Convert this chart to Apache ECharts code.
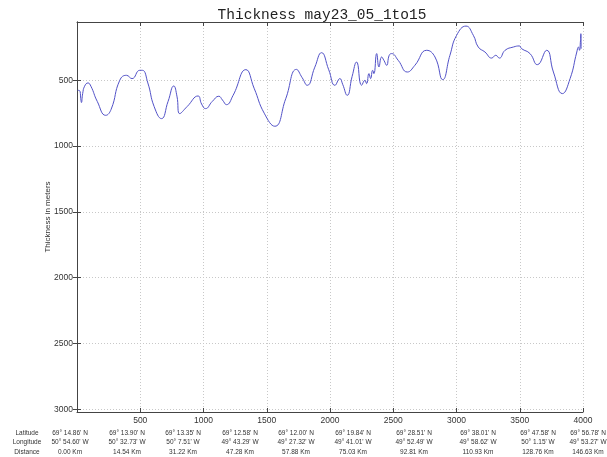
<!DOCTYPE html>
<html>
<head>
<meta charset="utf-8">
<script src="https://cdn.jsdelivr.net/npm/echarts@6/dist/echarts.min.js"></script>
<style>
  html, body { margin: 0; padding: 0; background: #fff; }
  #chart { width: 607px; height: 457px; }
</style>
</head>
<body>
<div id="chart"></div>
<script>
// Trace number along the profile and ice thickness (m) at each trace
const traceIndex = [
  5, 20, 30, 35, 45, 60, 87, 110, 160, 227, 270, 338, 391, 435, 496, 517,
  560, 610, 668, 720, 765, 790, 812, 870, 957, 985, 1016, 1070, 1121, 1150,
  1182, 1234, 1335, 1400, 1480, 1564, 1650, 1735, 1780, 1820, 1880, 1933,
  1990, 2039, 2078, 2100, 2136, 2175, 2210, 2250, 2276, 2289, 2308, 2321,
  2337, 2347, 2369, 2387, 2408, 2426, 2448, 2468, 2487, 2539, 2611, 2671,
  2764, 2830, 2891, 2948, 3001, 3075, 3133, 3172, 3225, 3278, 3310, 3339,
  3384, 3450, 3497, 3515, 3581, 3639, 3713, 3766, 3837, 3898, 3951, 3964,
  3972, 3980, 3983, 3985
];
const thickness = [
  576, 578, 640, 669, 600, 545, 520, 545, 660, 766, 720, 500, 462, 487, 424, 424,
  520, 700, 791, 660, 543, 620, 753, 700, 619, 680, 715, 660, 621, 650,
  685, 614, 419, 560, 750, 849, 640, 417, 480, 538, 400, 290,
  420, 538, 487, 530, 614, 470, 361, 538, 500, 525, 449, 487,
  424, 449, 297, 399, 323, 348, 386, 310, 297, 348, 437, 386,
  272, 323, 495, 310, 158, 88, 158, 247, 285, 331, 310, 331,
  272, 247, 239, 260, 297, 381, 272, 437, 601, 487, 285, 247,
  272, 200, 146, 260
];

// Tick values
const xTicks = [500, 1000, 1500, 2000, 2500, 3000, 3500, 4000];
const yTicks = [500, 1000, 1500, 2000, 2500, 3000];

// Position table under the plot
const rowLabels = ['Latitude', 'Longitude', 'Distance'];
const latitudes = ["69° 14.86' N", "69° 13.90' N", "69° 13.35' N", "69° 12.58' N", "69° 12.00' N",
                   "69° 19.84' N", "69° 28.51' N", "69° 38.01' N", "69° 47.58' N", "69° 56.78' N"];
const longitudes = ["50° 54.60' W", "50° 32.73' W", "50° 7.51' W", "49° 43.29' W", "49° 27.32' W",
                    "49° 41.01' W", "49° 52.49' W", "49° 58.62' W", "50° 1.15' W", "49° 53.27' W"];
const distances = ['0.00 Km', '14.54 Km', '31.22 Km', '47.28 Km', '57.88 Km',
                   '75.03 Km', '92.81 Km', '110.93 Km', '128.76 Km', '146.63 Km'];

const seriesData = traceIndex.map((t, i) => [t, thickness[i]]);

// Layout of the table
const colX = [70, 127, 183, 240, 296, 353, 414, 478, 538, 588];
const rowY = [433, 442.5, 452];
const tableFont = '6.5px "Liberation Sans", Arial, sans-serif';
const tableText = [];
[latitudes, longitudes, distances].forEach((row, r) => {
  tableText.push({
    type: 'text', x: 27, y: rowY[r],
    style: { text: rowLabels[r], font: tableFont, fill: '#333', textAlign: 'center', textVerticalAlign: 'middle' }
  });
  row.forEach((s, c) => {
    tableText.push({
      type: 'text', x: colX[c], y: rowY[r],
      style: { text: s, font: tableFont, fill: '#333', textAlign: 'center', textVerticalAlign: 'middle' }
    });
  });
});

const axisLineStyle = { color: '#444', width: 1 };
const gridLineStyle = { color: '#c8c8c8', type: [1, 2], width: 1 };
const labelStyle = {
  color: '#333', fontSize: 8.5, fontFamily: '"Liberation Sans", Arial, sans-serif',
  formatter: v => String(v)
};

const chart = echarts.init(document.getElementById('chart'), null, { renderer: 'canvas' });
chart.setOption({
  animation: false,
  backgroundColor: '#fff',
  title: {
    text: 'Thickness may23_05_1to15',
    left: 317, top: 3, textAlign: 'center',
    textStyle: { fontFamily: '"Liberation Mono", "DejaVu Sans Mono", monospace', fontSize: 14.5, fontWeight: 'normal', color: '#222' }
  },
  grid: { left: 77, right: 24, top: 22, bottom: 45, containLabel: false },
  xAxis: [{
    type: 'value', min: 0, max: 4000, interval: 500,
    axisLine: { show: true, lineStyle: axisLineStyle },
    axisTick: { show: true, inside: true, length: 4, lineStyle: axisLineStyle },
    axisLabel: { ...labelStyle, margin: 4, showMinLabel: false },
    splitLine: { show: true, lineStyle: gridLineStyle }
  }, {
    type: 'value', position: 'top', min: 0, max: 4000, interval: 500,
    axisLine: { show: true, lineStyle: axisLineStyle },
    axisTick: { show: true, inside: true, length: 4, lineStyle: axisLineStyle },
    axisLabel: { show: false }, splitLine: { show: false }
  }],
  yAxis: [{
    type: 'value', inverse: true, min: 57, max: 3020,
    name: 'Thickness in meters', nameLocation: 'middle', nameRotate: 90, nameGap: 25, nameMoveOverlap: false,
    nameTextStyle: { color: '#333', fontSize: 8, fontFamily: '"Liberation Sans", Arial, sans-serif' },
    axisLine: { show: true, lineStyle: axisLineStyle },
    axisTick: { show: true, inside: true, length: 4, customValues: yTicks, lineStyle: axisLineStyle },
    axisLabel: { ...labelStyle, margin: 4, customValues: yTicks },
    splitLine: { show: true, lineStyle: gridLineStyle }
  }, {
    type: 'value', position: 'right', inverse: true, min: 57, max: 3020,
    axisLine: { show: true, lineStyle: axisLineStyle },
    axisTick: { show: true, inside: true, length: 4, customValues: yTicks, lineStyle: axisLineStyle },
    axisLabel: { show: false, customValues: yTicks }, splitLine: { show: false }
  }],
  series: [{
    type: 'line',
    data: seriesData,
    xAxisIndex: 0, yAxisIndex: 0,
    showSymbol: false, symbol: 'none',
    smooth: 0.5,
    lineStyle: { color: '#5252c8', width: 1 }
  }],
  graphic: tableText
});
</script>
</body>
</html>
